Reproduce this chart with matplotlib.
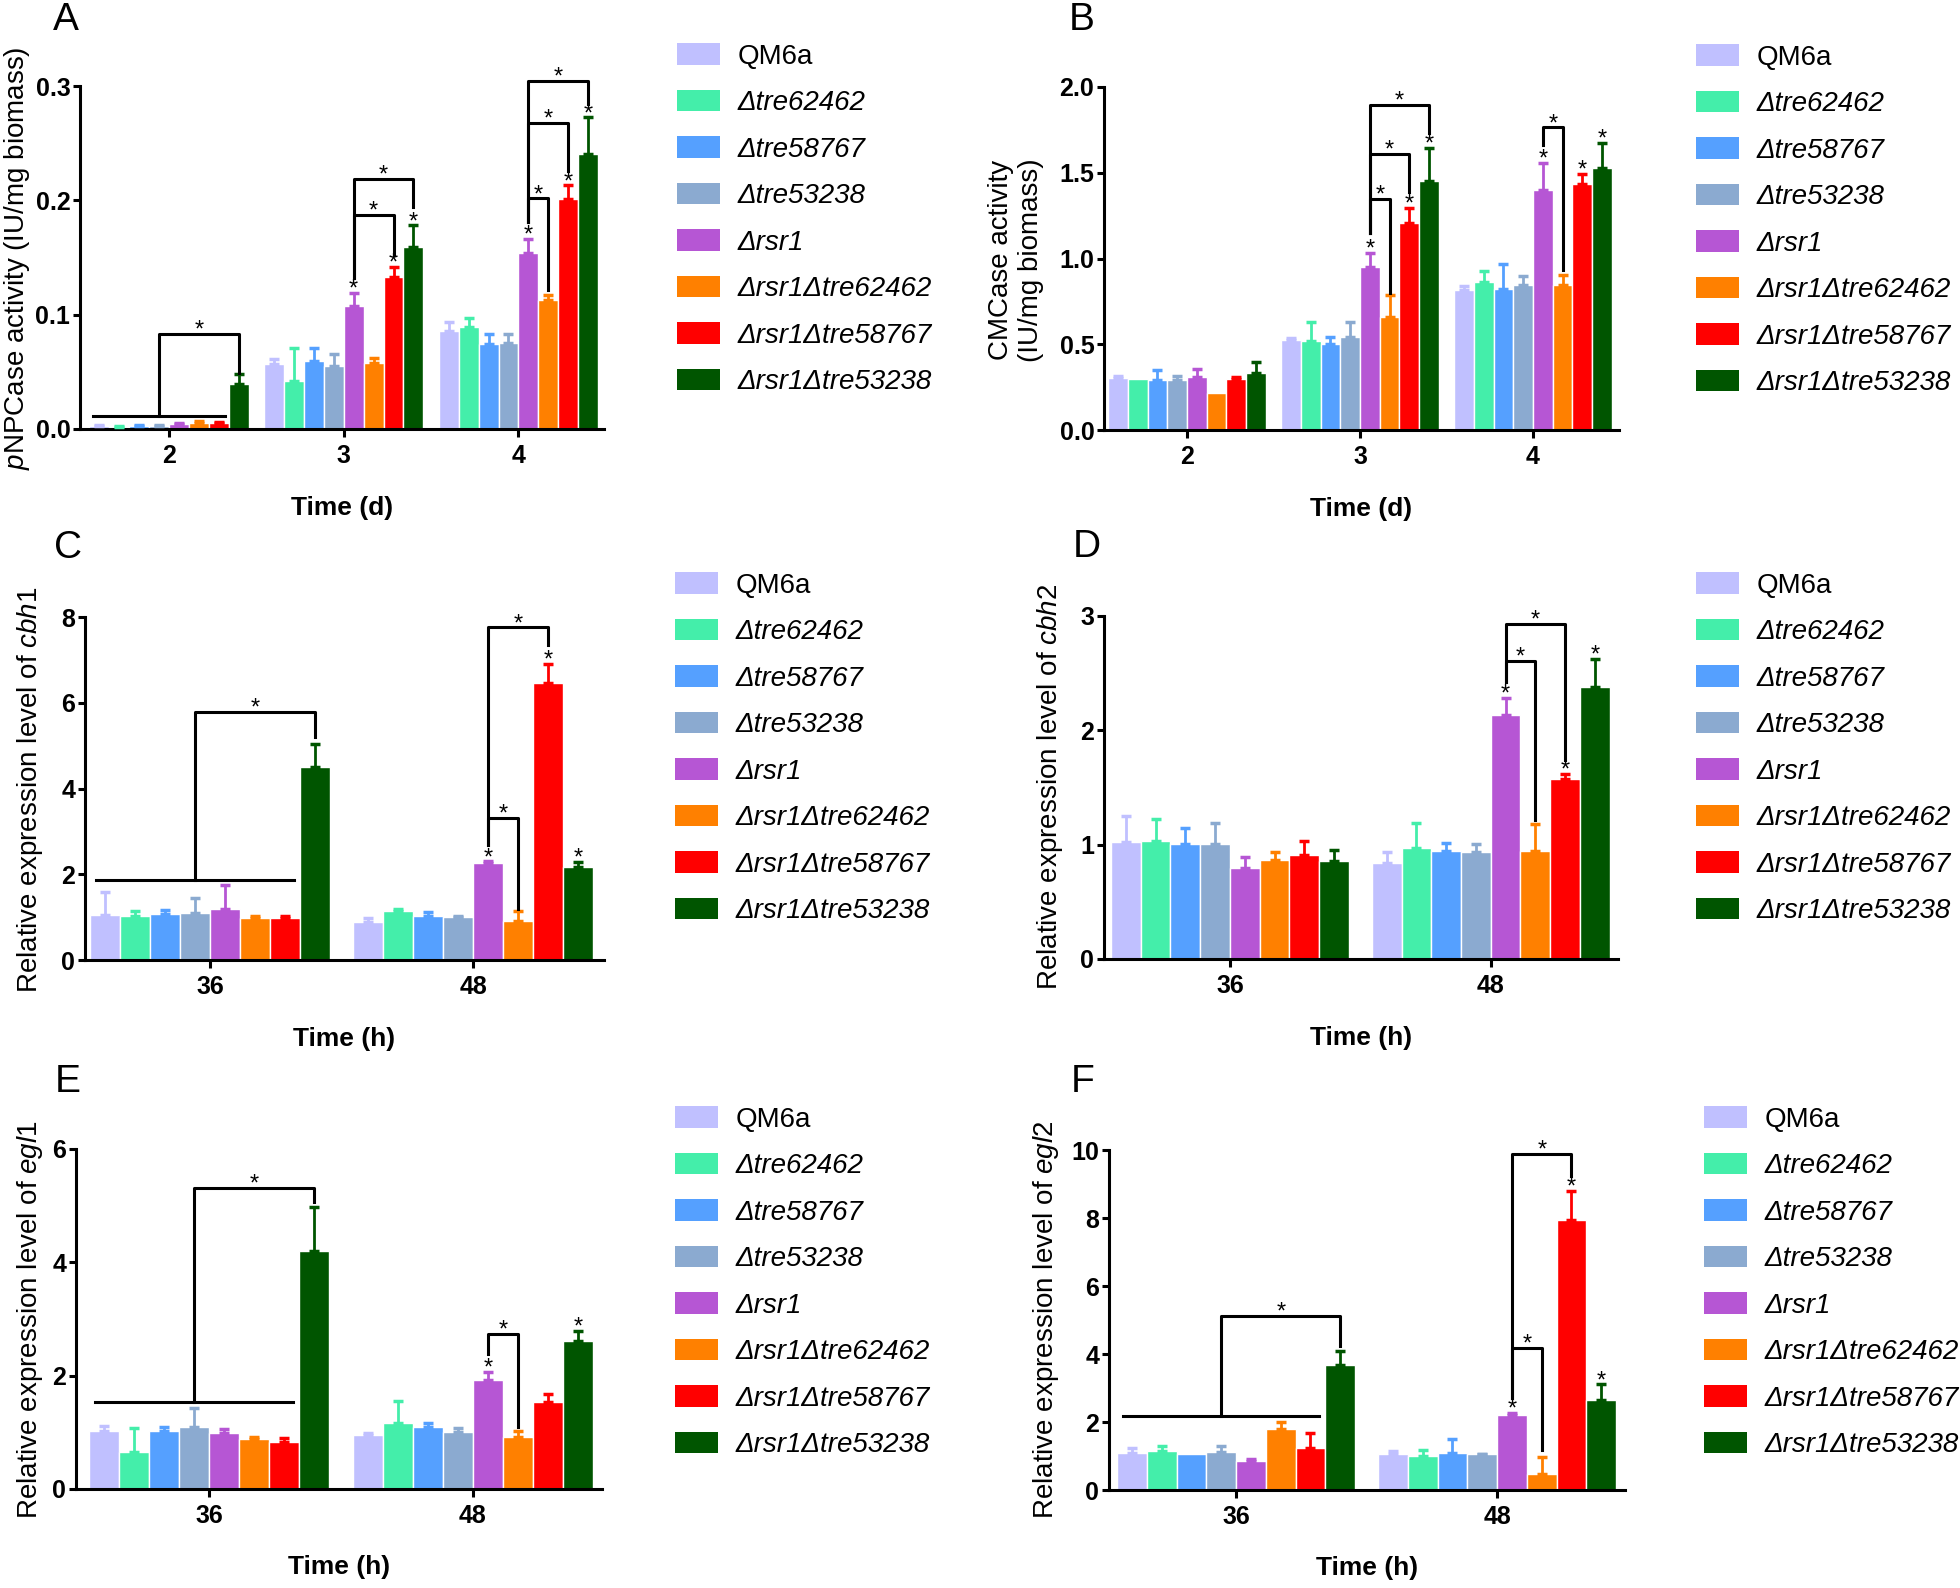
import numpy as np
import matplotlib
matplotlib.use("Agg")
import matplotlib.pyplot as plt
from matplotlib.patches import Patch
from matplotlib.ticker import FormatStrFormatter

plt.rcParams['font.family'] = ['Liberation Sans', 'DejaVu Sans']
plt.rcParams['mathtext.fontset'] = 'custom'
plt.rcParams['mathtext.rm'] = 'Liberation Sans'
plt.rcParams['mathtext.it'] = 'Liberation Sans:italic'
plt.rcParams['mathtext.bf'] = 'Liberation Sans:bold'

strains = ['QM6a', 'Δtre62462', 'Δtre58767', 'Δtre53238', 'Δrsr1',
           'Δrsr1Δtre62462', 'Δrsr1Δtre58767', 'Δrsr1Δtre53238']
colors = ['#C0C0FF', '#44EEAA', '#55A0FF', '#8BAAD0', '#B656D4',
          '#FF8000', '#FF0000', '#005500']

# A - pNPCase activity, days 2, 3, 4
days = ['2', '3', '4']
pnp_d2 = [0.003, 0.002, 0.003, 0.003, 0.004, 0.005, 0.005, 0.039]
pnp_d2_err = [0.0005, 0.0005, 0.0005, 0.0005, 0.001, 0.002, 0.001, 0.009]
pnp_d3 = [0.057, 0.042, 0.0595, 0.055, 0.108, 0.058, 0.133, 0.159]
pnp_d3_err = [0.004, 0.029, 0.011, 0.011, 0.011, 0.004, 0.009, 0.019]
pnp_d4 = [0.086, 0.0895, 0.074, 0.0755, 0.154, 0.113, 0.201, 0.2405]
pnp_d4_err = [0.008, 0.008, 0.009, 0.008, 0.012, 0.004, 0.012, 0.032]

# B - CMCase activity
cmc_d2 = [0.305, 0.30, 0.292, 0.292, 0.307, 0.214, 0.30, 0.335]
cmc_d2_err = [0.01, 0.0, 0.06, 0.023, 0.047, 0.0, 0.01, 0.06]
cmc_d3 = [0.525, 0.521, 0.502, 0.541, 0.953, 0.661, 1.206, 1.453]
cmc_d3_err = [0.012, 0.11, 0.043, 0.086, 0.078, 0.125, 0.09, 0.19]
cmc_d4 = [0.817, 0.864, 0.821, 0.846, 1.40, 0.846, 1.436, 1.527]
cmc_d4_err = [0.023, 0.062, 0.146, 0.053, 0.156, 0.059, 0.056, 0.146]

# C-F - relative expression, 36 h and 48 h
hours = ['36', '48']
cbh1_36 = [1.05, 1.03, 1.07, 1.09, 1.18, 0.99, 0.97, 4.50]
cbh1_36_err = [0.53, 0.12, 0.10, 0.35, 0.57, 0.03, 0.06, 0.54]
cbh1_48 = [0.895, 1.14, 1.03, 1.0, 2.26, 0.92, 6.47, 2.18]
cbh1_48_err = [0.08, 0.06, 0.10, 0.03, 0.04, 0.23, 0.43, 0.10]

cbh2_36 = [1.02, 1.028, 1.008, 1.008, 0.795, 0.868, 0.912, 0.859]
cbh2_36_err = [0.235, 0.195, 0.142, 0.18, 0.093, 0.072, 0.116, 0.096]
cbh2_48 = [0.838, 0.973, 0.943, 0.934, 2.132, 0.943, 1.571, 2.38]
cbh2_48_err = [0.096, 0.215, 0.07, 0.068, 0.155, 0.234, 0.048, 0.248]

egl1_36 = [1.03, 0.648, 1.03, 1.09, 0.983, 0.877, 0.836, 4.205]
egl1_36_err = [0.08, 0.42, 0.06, 0.335, 0.077, 0.048, 0.071, 0.765]
egl1_48 = [0.954, 1.172, 1.09, 1.013, 1.926, 0.925, 1.543, 2.615]
egl1_48_err = [0.041, 0.388, 0.08, 0.067, 0.144, 0.105, 0.127, 0.182]

egl2_36 = [1.078, 1.147, 1.049, 1.108, 0.853, 1.784, 1.225, 3.676]
egl2_36_err = [0.167, 0.143, 0.0, 0.192, 0.057, 0.226, 0.461, 0.414]
egl2_48 = [1.05, 1.003, 1.10, 1.05, 2.218, 0.467, 7.93, 2.637]
egl2_48_err = [0.10, 0.177, 0.39, 0.02, 0.05, 0.507, 0.87, 0.473]

# significance marks: (group, bar) for single stars,
# (group, target bar, bracket level, end level) for brackets from Δrsr1
# (group, base line, bracket level, end level) for "all vs Δrsr1Δtre53238"
pnp_stars = [(1, 4), (1, 6), (1, 7), (2, 4), (2, 6), (2, 7)]
pnp_brackets = [(1, 6, 0.187, 0.152), (1, 7, 0.219, 0.194),
                (2, 5, 0.2017, 0.1216), (2, 6, 0.268, 0.226), (2, 7, 0.3047, 0.284)]
pnp_legs = {1: 0.132, 2: 0.181}
pnp_all = (0, 0.0117, 0.083, 0.049)

cmc_stars = [(1, 4), (1, 6), (1, 7), (2, 4), (2, 6), (2, 7)]
cmc_brackets = [(1, 5, 1.346, 0.798), (1, 6, 1.609, 1.39), (1, 7, 1.897, 1.731),
                (2, 5, 1.764, 0.934)]
cmc_legs = {1: 1.148, 2: 1.663}

cbh1_stars = [(1, 4), (1, 6), (1, 7)]
cbh1_brackets = [(1, 5, 3.31, 1.18), (1, 6, 7.76, 7.35)]
cbh1_legs = {1: 2.68}
cbh1_all = (0, 1.87, 5.78, 5.21)

cbh2_stars = [(1, 4), (1, 6), (1, 7)]
cbh2_brackets = [(1, 5, 2.61, 1.218), (1, 6, 2.93, 1.738)]
cbh2_legs = {1: 2.42}

egl1_stars = [(1, 4), (1, 7)]
egl1_brackets = [(1, 5, 2.74, 1.10)]
egl1_legs = {1: 2.385}
egl1_all = (0, 1.543, 5.31, 5.06)

egl2_stars = [(1, 4), (1, 6), (1, 7)]
egl2_brackets = [(1, 5, 4.19, 1.17), (1, 6, 9.88, 9.24)]
egl2_legs = {1: 2.70}
egl2_all = (0, 2.176, 5.118, 4.24)

W = 0.114
LW = 2.2
FW, FH = 1960, 1588


def star(ax, x, y):
    ax.annotate('*', xy=(x, y), xytext=(0, -2), textcoords='offset points',
                ha='center', va='baseline', fontsize=17, annotation_clip=False)


def panel(rect, groups, means, errs, ymax, ystep, fmt, xlim, stars,
          brackets, legs, allvs=None, xlabel='Time (h)'):
    l, t, r, b = rect
    ax = fig.add_axes([l / FW, 1 - b / FH, (r - l) / FW, (b - t) / FH])
    n = len(strains)
    offs = (np.arange(n) - (n - 1) / 2) * W
    for g in range(len(groups)):
        for i in range(n):
            x = g + offs[i]
            ax.bar(x, means[g][i], W, color=colors[i], edgecolor='white',
                   linewidth=1.0, zorder=2)
            if errs[g][i] > 0:
                ax.errorbar(x, means[g][i], yerr=[[0], [errs[g][i]]], fmt='none',
                            ecolor=colors[i], elinewidth=2, capsize=3.5,
                            capthick=2.5, zorder=3)
    for g, i in stars:
        star(ax, g + offs[i], means[g][i] + errs[g][i])
    for g, j, ytop, yend in brackets:
        x0 = g + offs[4]
        x1 = g + offs[j]
        ax.plot([x0, x0, x1, x1], [legs[g], ytop, ytop, yend], color='black',
                lw=LW, clip_on=False, zorder=4)
        star(ax, (x0 + x1) / 2, ytop)
    if allvs is not None:
        g, yline, ytop, yend = allvs
        xa = g + offs[0] - 0.3 * W
        xb = g + offs[6] + 0.3 * W
        xm = (xa + xb) / 2
        xt = g + offs[7]
        ax.plot([xa, xb], [yline, yline], color='black', lw=LW, zorder=4)
        ax.plot([xm, xm, xt, xt], [yline, ytop, ytop, yend], color='black',
                lw=LW, clip_on=False, zorder=4)
        star(ax, (xm + xt) / 2, ytop)

    for s in ['top', 'right']:
        ax.spines[s].set_visible(False)
    for s in ['left', 'bottom']:
        ax.spines[s].set_linewidth(LW)
    ax.set_ylim(0, ymax)
    ax.set_yticks(np.arange(0, ymax + ystep / 2, ystep))
    ax.yaxis.set_major_formatter(FormatStrFormatter(fmt))
    ax.set_xlim(*xlim)
    ax.set_xticks(range(len(groups)))
    ax.set_xticklabels(groups)
    ax.tick_params(axis='both', width=LW, labelsize=18)
    ax.tick_params(axis='x', length=6, pad=5)
    ax.tick_params(axis='y', length=5, pad=2)
    for lab in ax.get_xticklabels() + ax.get_yticklabels():
        lab.set_fontweight('bold')
    ax.set_xlabel(xlabel, fontsize=19, fontweight='bold')
    ax.xaxis.set_label_coords(0.5, -0.195)
    return ax


def legend(x, y):
    handles = [Patch(facecolor=c, edgecolor='none') for c in colors]
    leg = fig.legend(handles, strains, loc='upper left',
                     bbox_to_anchor=(x / FW, 1 - y / FH), frameon=False,
                     fontsize=20, handlelength=1.55, handleheight=0.83,
                     handletextpad=0.62, labelspacing=0.72, borderpad=0,
                     borderaxespad=0)
    for t in leg.get_texts()[1:]:
        t.set_fontstyle('italic')


def label(x, y, s, **kw):
    fig.text(x / FW, 1 - y / FH, s, **kw)


fig = plt.figure(figsize=(19.6, 15.88), dpi=100)

panel((80, 86, 604, 429), days, [pnp_d2, pnp_d3, pnp_d4],
      [pnp_d2_err, pnp_d3_err, pnp_d4_err], 0.3, 0.1, '%.1f', (-0.51, 2.49),
      pnp_stars, pnp_brackets, pnp_legs, pnp_all, xlabel='Time (d)')
panel((1104, 87, 1619, 430), days, [cmc_d2, cmc_d3, cmc_d4],
      [cmc_d2_err, cmc_d3_err, cmc_d4_err], 2.0, 0.5, '%.1f', (-0.48, 2.497),
      cmc_stars, cmc_brackets, cmc_legs, None, xlabel='Time (d)')
panel((85, 617, 604, 960), hours, [cbh1_36, cbh1_48], [cbh1_36_err, cbh1_48_err],
      8, 2, '%d', (-0.476, 1.496), cbh1_stars, cbh1_brackets, cbh1_legs, cbh1_all)
panel((1104, 616, 1618, 959), hours, [cbh2_36, cbh2_48], [cbh2_36_err, cbh2_48_err],
      3, 1, '%d', (-0.483, 1.488), cbh2_stars, cbh2_brackets, cbh2_legs, None)
panel((76, 1149, 602, 1489), hours, [egl1_36, egl1_48], [egl1_36_err, egl1_48_err],
      6, 2, '%d', (-0.505, 1.49), egl1_stars, egl1_brackets, egl1_legs, egl1_all)
panel((1109, 1150, 1625, 1490), hours, [egl2_36, egl2_48], [egl2_36_err, egl2_48_err],
      10, 2, '%d', (-0.487, 1.49), egl2_stars, egl2_brackets, egl2_legs, egl2_all)

legend(677, 43)
legend(1696, 44)
legend(675, 572)
legend(1696, 572)
legend(675, 1106)
legend(1704, 1106)

ylab = dict(rotation=90, ha='center', va='center', fontsize=20)
label(17, 258, '$\\mathit{p}$NPCase activity (IU/mg biomass)', **ylab)
label(1016, 260, 'CMCase activity\n(IU/mg biomass)', multialignment='center', **ylab)
label(30, 790, 'Relative expression level of $\\mathit{cbh1}$', **ylab)
label(1050, 787, 'Relative expression level of $\\mathit{cbh2}$', **ylab)
label(30, 1320, 'Relative expression level of $\\mathit{egl1}$', **ylab)
label(1046, 1320, 'Relative expression level of $\\mathit{egl2}$', **ylab)

letters = dict(fontsize=28, ha='center', va='center')
label(66, 20, 'A', **letters)
label(1082, 20, 'B', **letters)
label(68, 548, 'C', **letters)
label(1087, 547, 'D', **letters)
label(68, 1082, 'E', **letters)
label(1083, 1082, 'F', **letters)

fig.savefig('out.png', dpi=100)
